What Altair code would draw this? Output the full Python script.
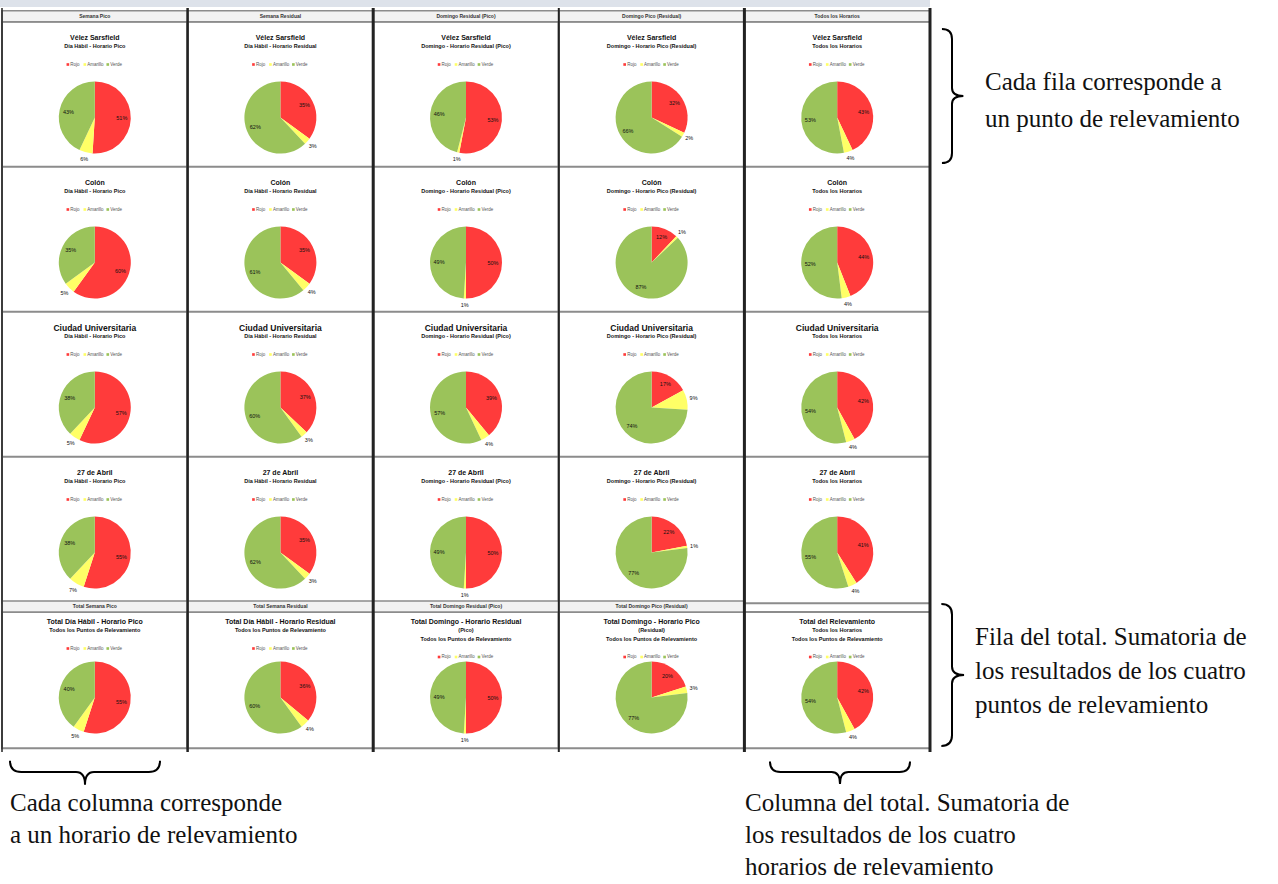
import altair as alt
import pandas as pd

# ---------------- data ----------------
puntos = ["Vélez Sarsfield", "Colón", "Ciudad Universitaria", "27 de Abril"]
horarios = ["Día Hábil - Horario Pico", "Día Hábil - Horario Residual",
            "Domingo - Horario Residual (Pico)", "Domingo - Horario Pico (Residual)",
            "Todos los Horarios"]
encabezados = ["Semana Pico", "Semana Residual", "Domingo Residual (Pico)",
               "Domingo Pico (Residual)", "Todos los Horarios"]
encabezados_total = ["Total Semana Pico", "Total Semana Residual",
                     "Total Domingo Residual (Pico)", "Total Domingo Pico (Residual)", ""]
titulos_total = [
    ["Total Día Hábil - Horario Pico", "Todos los Puntos de Relevamiento"],
    ["Total Día Hábil - Horario Residual", "Todos los Puntos de Relevamiento"],
    ["Total Domingo - Horario Residual", "(Pico)", "Todos los Puntos de Relevamiento"],
    ["Total Domingo - Horario Pico", "(Residual)", "Todos los Puntos de Relevamiento"],
    ["Total del Relevamiento", "Todos los Horarios", "Todos los Puntos de Relevamiento"],
]
categorias = ["Rojo", "Amarillo", "Verde"]
colores = ["#FF3B3B", "#FFFF66", "#9BC35A"]

rojo = [[51, 35, 53, 32, 43],
        [60, 35, 50, 12, 44],
        [57, 37, 39, 17, 42],
        [55, 35, 50, 22, 41],
        [55, 36, 50, 20, 42]]
amarillo = [[6, 3, 1, 2, 4],
            [5, 4, 1, 1, 4],
            [5, 3, 4, 9, 4],
            [7, 3, 1, 1, 4],
            [5, 4, 1, 3, 4]]
verde = [[43, 62, 46, 66, 53],
         [35, 61, 49, 87, 52],
         [38, 60, 57, 74, 54],
         [38, 62, 49, 77, 55],
         [40, 60, 49, 77, 54]]

# ---------------- tables ----------------
pie_rows, cell_rows, title_rows, legend_rows, head_rows = [], [], [], [], []
for r in range(5):
    for c in range(5):
        vals = [rojo[r][c], amarillo[r][c], verde[r][c]]
        acc = 0
        for cat, v in zip(categorias, vals):
            pie_rows.append(dict(row=r, col=c, cat=cat, pct=v, start=acc, end=acc + v,
                                 mid=acc + v / 2, lab=f"{v}%"))
            acc += v
        cell_rows.append(dict(row=r, col=c))
        if r < 4:
            lines = [puntos[r], horarios[c]]
        else:
            lines = titulos_total[c]
        for i, t in enumerate(lines):
            fs = 7 if i == 0 else 5.5
            if i == 0 and r == 2:
                fs = 8.5
            title_rows.append(dict(row=r, col=c, li=i, txt=t, fs=fs))
        for k, cat in enumerate(categorias):
            legend_rows.append(dict(row=r, col=c, k=k, cat=cat, nl=len(lines)))
for c in range(5):
    head_rows.append(dict(row=0, col=c, txt=encabezados[c]))
    if encabezados_total[c]:
        head_rows.append(dict(row=4, col=c, txt=encabezados_total[c]))

pies = pd.DataFrame(pie_rows)
cells = pd.DataFrame(cell_rows)
titles = pd.DataFrame(title_rows)
legend = pd.DataFrame(legend_rows)
heads = pd.DataFrame(head_rows)
vrules = pd.DataFrame(dict(b=[-0.5, 0.5, 1.5, 2.5, 3.5, 4.5], w=[1.5, 2.5, 3, 2, 3, 3]))

# ---------------- scales ----------------
xs = alt.Scale(domain=[-0.5, 4.5], range=[2, 930], nice=False, zero=False)
ys = alt.Scale(domain=[-0.5, 4.5], range=[45, 770], nice=False, zero=False)
ts = alt.Scale(domain=[0, 100], range=[0, 6.283185])
cs = alt.Scale(domain=categorias, range=colores)

TOP = "(datum.row == 4 ? datum.row - 0.59 : datum.row - 0.66)"
SHIFT = "(datum.row == 4 ? 4 : 0)"

ruler = alt.Chart(pd.DataFrame({"a": [0]})).mark_rect(fill="#dde2ea").encode(
    x=alt.value(0), x2=alt.value(930), y=alt.value(0), y2=alt.value(7))

cell_layer = alt.Chart(cells).transform_calculate(
    x1="datum.col - 0.5", x2="datum.col + 0.5",
    y1=TOP, y2="datum.row + 0.35"
).mark_rect(fill="white", stroke="#8c8c8c", strokeWidth=2).encode(
    x=alt.X("x1:Q", scale=xs, axis=None), x2="x2:Q",
    y=alt.Y("y1:Q", scale=ys, axis=None), y2="y2:Q")

head_layer = alt.Chart(heads).transform_calculate(
    x1="datum.col - 0.5", x2="datum.col + 0.5",
    y1=TOP + " - 11/145", y2=TOP
).mark_rect(fill="#f2f2f2", stroke="#8c8c8c", strokeWidth=1.5).encode(
    x=alt.X("x1:Q", scale=xs, axis=None), x2="x2:Q",
    y=alt.Y("y1:Q", scale=ys, axis=None), y2="y2:Q")

head_text = alt.Chart(heads).transform_calculate(
    ty=TOP + " - 5.5/145"
).mark_text(fontSize=5, fontWeight="bold", color="#333", baseline="middle",
            font="Liberation Sans").encode(
    x=alt.X("col:Q", scale=xs, axis=None),
    y=alt.Y("ty:Q", scale=ys, axis=None), text="txt:N")

rule_layer = alt.Chart(vrules).mark_rule(color="#222").encode(
    x=alt.X("b:Q", scale=xs, axis=None), y=alt.value(8), y2=alt.value(752),
    strokeWidth=alt.StrokeWidth("w:Q", scale=None))

arc_layer = alt.Chart(pies).mark_arc(radius=36).encode(
    x=alt.X("col:Q", scale=xs, axis=None),
    y=alt.Y("row:Q", scale=ys, axis=None),
    theta=alt.Theta("start:Q", scale=ts, stack=None),
    theta2="end:Q",
    color=alt.Color("cat:N", scale=cs, legend=None))

pct_layer = alt.Chart(pies).transform_calculate(
    lr="datum.pct >= 10 ? 27 : 43"
).mark_text(fontSize=5.5, color="#111", font="Liberation Sans").encode(
    x=alt.X("col:Q", scale=xs, axis=None),
    y=alt.Y("row:Q", scale=ys, axis=None),
    theta=alt.Theta("mid:Q", scale=ts, stack=None),
    radius=alt.Radius("lr:Q", scale=None),
    text="lab:N")

title_layer = alt.Chart(titles).transform_calculate(
    ty=f"datum.row + (-80 + {SHIFT} + datum.li * 8.5) / 145"
).mark_text(fontWeight="bold", color="#111", baseline="middle",
            font="Liberation Sans").encode(
    x=alt.X("col:Q", scale=xs, axis=None),
    y=alt.Y("ty:Q", scale=ys, axis=None),
    size=alt.Size("fs:Q", scale=None),
    text="txt:N")

LEG_DX = "(datum.k == 0 ? -27 : (datum.k == 1 ? -10 : 13))"
LEG_Y = f"datum.row + (-78 + {SHIFT} + datum.nl * 8.5 + 8) / 145"

leg_sq = alt.Chart(legend).transform_calculate(
    lx=f"datum.col + {LEG_DX} / 186", ly=LEG_Y
).mark_point(shape="square", filled=True, size=7, opacity=1).encode(
    x=alt.X("lx:Q", scale=xs, axis=None),
    y=alt.Y("ly:Q", scale=ys, axis=None),
    color=alt.Color("cat:N", scale=cs, legend=None))

leg_tx = alt.Chart(legend).transform_calculate(
    lx=f"datum.col + ({LEG_DX} + 2.5) / 186", ly=LEG_Y
).mark_text(fontSize=4.5, color="#555", align="left", baseline="middle",
            font="Liberation Sans").encode(
    x=alt.X("lx:Q", scale=xs, axis=None),
    y=alt.Y("ly:Q", scale=ys, axis=None),
    text="cat:N")

# ---------------- annotations ----------------
BRACE = ("M -0.15 -1 Q 0 -1 0 -0.85 L 0 -0.12 Q 0 0 0.17 0 "
         "Q 0 0 0 0.12 L 0 0.85 Q 0 1 -0.15 1")

def brace(x, y, length, angle):
    return alt.Chart(pd.DataFrame({"a": [0]})).mark_point(
        shape=BRACE, filled=False, stroke="black", strokeWidth=2, opacity=1,
        size=length * length, angle=angle).encode(x=alt.value(x), y=alt.value(y))

def note(lines, x, y0, step=33):
    df = pd.DataFrame({"t": lines, "i": list(range(len(lines)))})
    return alt.Chart(df).transform_calculate(yy=f"{y0} + datum.i * {step}").mark_text(
        align="left", baseline="middle", fontSize=25, font="Liberation Serif",
        color="#111").encode(x=alt.value(x), y=alt.Y("yy:Q", scale=None), text="t:N")

notes = [
    brace(952, 96, 134, 0),
    note(["Cada fila corresponde a", "un punto de relevamiento"], 985, 82, 37),
    brace(952, 675, 142, 0),
    note(["Fila del total. Sumatoria de", "los resultados de los cuatro",
          "puntos de relevamiento"], 975, 637, 34),
    brace(85, 772, 150, 90),
    note(["Cada columna corresponde", "a un horario de relevamiento"], 10, 803, 32),
    brace(840, 772, 140, 90),
    note(["Columna del total. Sumatoria de", "los resultados de los cuatro",
          "horarios de relevamiento"], 745, 803, 32),
]

chart = alt.layer(
    ruler, cell_layer, head_layer, head_text, rule_layer, arc_layer, pct_layer,
    title_layer, leg_sq, leg_tx, *notes
).properties(width=1278, height=884, autosize="none", padding=0,
             background="white").configure_view(stroke=None)

chart.save("out.html", embed_options={"renderer": "svg", "actions": False})
